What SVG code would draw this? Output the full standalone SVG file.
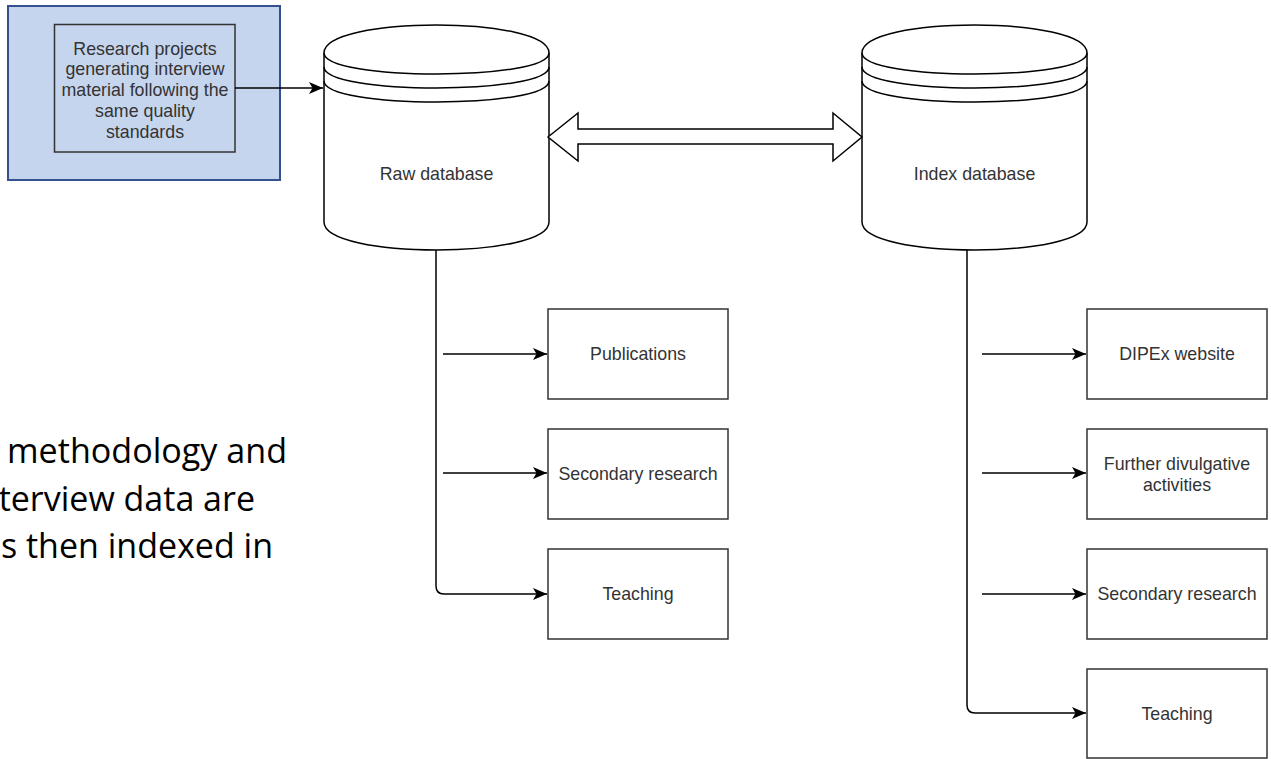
<svg xmlns="http://www.w3.org/2000/svg" width="1271" height="759" viewBox="0 0 1271 759">
  <style>
    .lbl { font-family: "Liberation Sans", Arial, sans-serif; font-size: 17.8px; fill: #333333; text-anchor: middle; dominant-baseline: central; }
    .box { fill: #ffffff; stroke: #333333; stroke-width: 1.5; }
    .db { fill: #ffffff; stroke: #000000; stroke-width: 1.5; }
    .ring { fill: none; stroke: #000000; stroke-width: 1.5; }
    .edge { fill: none; stroke: #000000; stroke-width: 1.5; }
    .body { font-family: "Open Sans", "Noto Sans", sans-serif; font-size: 34px; fill: #000000; text-anchor: end; }
  </style>
  <defs>
    <marker id="arrow" markerUnits="userSpaceOnUse" markerWidth="15" markerHeight="15" viewBox="0 0 15 15" refX="14" refY="7.5" orient="auto">
      <path d="M0,1.5 L14,7.5 L0,13.5 L3.5,7.5 Z" fill="#000000"/>
    </marker>
  </defs>
  <rect width="1271" height="759" fill="#ffffff"/>

  <!-- caption text running off the left edge -->
  <g id="caption">
    <text class="body" x="287" y="463" textLength="280" lengthAdjust="spacingAndGlyphs">methodology and</text>
    <text class="body" x="255" y="511">terview data are</text>
    <text class="body" x="273" y="558">s then indexed in</text>
  </g>

  <!-- source projects container -->
  <g id="source">
    <rect x="8" y="6" width="272" height="174" fill="#c6d5ee" stroke="#34508f" stroke-width="2"/>
    <rect x="54.5" y="24.5" width="180.5" height="127.5" fill="#c6d5ee" stroke="#333333" stroke-width="1.5"/>
    <text class="lbl" x="145" y="48.5">Research projects</text>
    <text class="lbl" x="145" y="69.3">generating interview</text>
    <text class="lbl" x="145" y="90">material following the</text>
    <text class="lbl" x="145" y="110.8">same quality</text>
    <text class="lbl" x="145" y="131.6">standards</text>
  </g>

  <!-- data stores -->
  <g id="raw-db">
    <path class="db" d="M324,53 C324,15.7 549,15.7 549,53 L549,222 C549,259.3 324,259.3 324,222 Z"/>
    <path class="ring" d="M324,53 C324,81 549,81 549,53 M324,67 C324,95 549,95 549,67 M324,81 C324,109 549,109 549,81"/>
    <text class="lbl" x="436.5" y="174">Raw database</text>
  </g>
  <g id="index-db">
    <path class="db" d="M862,53 C862,15.7 1087,15.7 1087,53 L1087,222 C1087,259.3 862,259.3 862,222 Z"/>
    <path class="ring" d="M862,53 C862,81 1087,81 1087,53 M862,67 C862,95 1087,95 1087,67 M862,81 C862,109 1087,109 1087,81"/>
    <text class="lbl" x="974.5" y="174">Index database</text>
  </g>

  <!-- raw database outputs -->
  <g id="raw-publications">
    <rect class="box" x="548" y="309" width="180" height="90"/>
    <text class="lbl" x="638" y="354">Publications</text>
  </g>
  <g id="raw-secondary">
    <rect class="box" x="548" y="429" width="180" height="90"/>
    <text class="lbl" x="638" y="474">Secondary research</text>
  </g>
  <g id="raw-teaching">
    <rect class="box" x="548" y="549" width="180" height="90"/>
    <text class="lbl" x="638" y="594">Teaching</text>
  </g>

  <!-- index database outputs -->
  <g id="idx-website">
    <rect class="box" x="1087" y="309" width="180" height="90"/>
    <text class="lbl" x="1177" y="354">DIPEx website</text>
  </g>
  <g id="idx-divulgative">
    <rect class="box" x="1087" y="429" width="180" height="90"/>
    <text class="lbl" x="1177" y="464">Further divulgative</text>
    <text class="lbl" x="1177" y="485">activities</text>
  </g>
  <g id="idx-secondary">
    <rect class="box" x="1087" y="549" width="180" height="90"/>
    <text class="lbl" x="1177" y="594">Secondary research</text>
  </g>
  <g id="idx-teaching">
    <rect class="box" x="1087" y="669" width="180" height="89"/>
    <text class="lbl" x="1177" y="714">Teaching</text>
  </g>

  <!-- connectors -->
  <g id="connectors">
    <path class="edge" d="M235,88 L323,88" marker-end="url(#arrow)"/>
    <polygon points="548,137 578,113 578,129 833,129 833,113 862,137 833,161 833,144 578,144 578,161" fill="#ffffff" stroke="#000000" stroke-width="1.5" stroke-linejoin="miter"/>

    <path class="edge" d="M436,250 L436,586 Q436,594 444,594 L547,594" marker-end="url(#arrow)"/>
    <path class="edge" d="M443,354 L547,354" marker-end="url(#arrow)"/>
    <path class="edge" d="M443,473 L547,473" marker-end="url(#arrow)"/>

    <path class="edge" d="M967,250 L967,705 Q967,713 975,713 L1086,713" marker-end="url(#arrow)"/>
    <path class="edge" d="M982,354 L1086,354" marker-end="url(#arrow)"/>
    <path class="edge" d="M982,473 L1086,473" marker-end="url(#arrow)"/>
    <path class="edge" d="M982,594 L1086,594" marker-end="url(#arrow)"/>
  </g>
</svg>
